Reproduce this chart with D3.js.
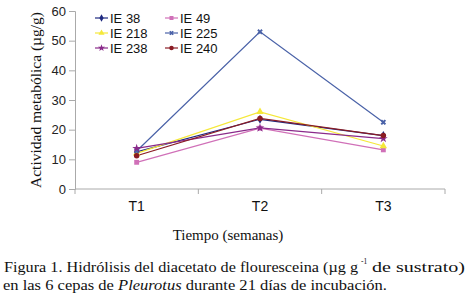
<!DOCTYPE html>
<html>
<head>
<meta charset="utf-8">
<script src="https://cdn.jsdelivr.net/npm/d3@7"></script>
<style>
  body { margin: 0; background: #fff; }
  svg { display: block; }
</style>
</head>
<body>
<div id="chart"></div>
<script>
// data
const weeks = ["T1", "T2", "T3"];
const strains = ["IE 38", "IE 49", "IE 218", "IE 225", "IE 238", "IE 240"];
const ie38 = [12.5, 23.5, 18];
const ie49 = [9, 20.5, 13.2];
const ie218 = [12, 26, 14.5];
const ie225 = [12.8, 53, 22.5];
const ie238 = [13.7, 20.6, 17];
const ie240 = [11.2, 23.8, 18];
const yTicks = [0, 10, 20, 30, 40, 50, 60];

const series = [ie38, ie49, ie218, ie225, ie238, ie240];
const colors = ["#1f2a80", "#d070b8", "#f5e83a", "#4a62a8", "#8a2a8a", "#8a1c24"];
const symbols = [d3.symbolDiamond, d3.symbolSquare, d3.symbolTriangle, d3.symbolCross, d3.symbolStar, d3.symbolCircle];

const width = 467, height = 301;
const svg = d3.select("#chart").append("svg")
  .attr("width", width)
  .attr("height", height);

let x = d3.scaleBand().domain(weeks).range([75, 445]);
let y = d3.scaleLinear().domain([0, 60]).range([189, 11]);

function symbolPath(k, size) {
  let isCross = symbols[k] === d3.symbolCross;
  return d3.symbol().type(symbols[k]).size(isCross ? size * 0.8 : size)();
}
function symbolRot(k) {
  return symbols[k] === d3.symbolCross ? 45 : 0;
}

// y axis
let yAxis = svg.append("g")
  .attr("transform", "translate(75,0)")
  .call(d3.axisLeft(y).tickValues(yTicks).tickSize(6).tickPadding(3));
yAxis.select(".domain").attr("stroke", "#aaa");
yAxis.selectAll(".tick line").attr("stroke", "#aaa");
yAxis.selectAll("text")
  .style("font-family", "Liberation Sans, Arial, sans-serif")
  .style("font-size", "13px")
  .attr("fill", "#222");

// x axis, ticks at the category edges
let xAxis = svg.append("g")
  .attr("transform", "translate(0,189)");
xAxis.append("line")
  .attr("x1", 75).attr("x2", 445)
  .attr("stroke", "#aaa");
let edges = weeks.map(d => x(d)).concat([x.range()[1]]);
xAxis.selectAll(".edge").data(edges).enter().append("line")
  .attr("x1", d => d).attr("x2", d => d)
  .attr("y1", 0).attr("y2", 5)
  .attr("stroke", "#aaa");
xAxis.selectAll(".lbl").data(weeks).enter().append("text")
  .attr("x", d => x(d) + x.bandwidth() / 2)
  .attr("y", 22)
  .attr("text-anchor", "middle")
  .style("font-family", "Liberation Sans, Arial, sans-serif")
  .style("font-size", "14px")
  .attr("fill", "#111")
  .text(d => d);

// axis titles
svg.append("text")
  .attr("transform", "translate(41,100) rotate(-90)")
  .attr("text-anchor", "middle")
  .style("font-family", "Liberation Serif, Times New Roman, serif")
  .style("font-size", "15.5px")
  .attr("fill", "#111")
  .text("Actividad metabólica (µg/g)");

svg.append("text")
  .attr("x", 228).attr("y", 240)
  .attr("text-anchor", "middle")
  .style("font-family", "Liberation Serif, Times New Roman, serif")
  .style("font-size", "15px")
  .attr("fill", "#111")
  .text("Tiempo (semanas)");

// lines
let line = d3.line()
  .x((d, i) => x(weeks[i]) + x.bandwidth() / 2)
  .y(d => y(d));

series.forEach(function(values, k) {
  svg.append("path")
    .attr("d", line(values))
    .attr("fill", "none")
    .attr("stroke", colors[k])
    .attr("stroke-width", 1.2);
});

series.forEach(function(values, k) {
  svg.selectAll(".m" + k).data(values).enter().append("path")
    .attr("transform", (d, i) => "translate(" + (x(weeks[i]) + x.bandwidth() / 2) + "," + y(d) + ") rotate(" + symbolRot(k) + ")")
    .attr("d", symbolPath(k, 24))
    .attr("fill", colors[k]);
});

// legend, two columns
let legend = svg.append("g");
strains.forEach(function(name, k) {
  let lx = 95 + (k % 2) * 70;
  let ly = 18 + Math.floor(k / 2) * 15;
  let g = legend.append("g").attr("transform", "translate(" + lx + "," + ly + ")");
  g.append("line")
    .attr("x1", 0).attr("x2", 13)
    .attr("stroke", colors[k])
    .attr("stroke-width", 1.2);
  g.append("path")
    .attr("transform", "translate(6.5,0) rotate(" + symbolRot(k) + ")")
    .attr("d", symbolPath(k, 16))
    .attr("fill", colors[k]);
  g.append("text")
    .attr("x", 15).attr("y", 4.5)
    .style("font-family", "Liberation Sans, Arial, sans-serif")
    .style("font-size", "13px")
    .attr("fill", "#111")
    .text(name);
});

// caption, first line in three pieces (text, superscript, text)
function captionText(xPos, yPos, len, size) {
  let t = svg.append("text")
    .attr("x", xPos).attr("y", yPos)
    .style("font-family", "Liberation Serif, Times New Roman, serif")
    .style("font-size", size + "px")
    .attr("fill", "#111");
  if (len) t.attr("textLength", len).attr("lengthAdjust", "spacingAndGlyphs");
  return t;
}

captionText(4, 272, 354, 15).text("Figura 1. Hidrólisis del diacetato de flouresceina (µg g");
captionText(361, 264, null, 7.5).text("-1");
captionText(372, 272, 93, 15).text("de sustrato)");

let caption2 = captionText(3, 289.5, 384, 15);
caption2.append("tspan").text("en las 6 cepas de ");
caption2.append("tspan").style("font-style", "italic").text("Pleurotus");
caption2.append("tspan").text(" durante 21 días de incubación.");
</script>
</body>
</html>
